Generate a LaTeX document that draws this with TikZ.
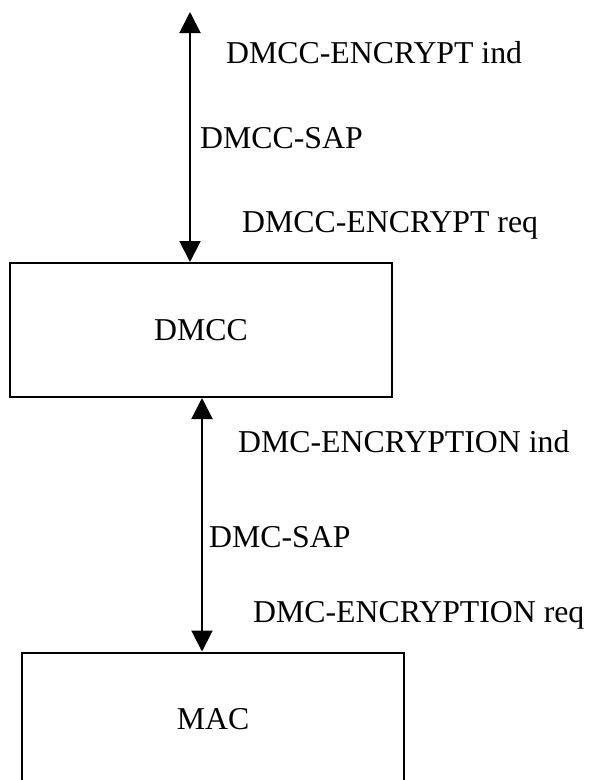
\documentclass[tikz,border=0pt]{standalone}
\usepackage{fontspec}
\setmainfont{Liberation Serif}
\usetikzlibrary{arrows.meta}
\begin{document}
\begin{tikzpicture}[x=1pt,y=-1pt,
  every node/.style={font=\fontsize{31.8}{38}\selectfont},
  blockbox/.style={draw,line width=2pt,minimum width=382pt,minimum height=134pt,inner sep=0pt},
  lbl/.style={anchor=base west,inner sep=0pt},
  conn/.style={line width=2pt,{Triangle[length=21pt,width=21pt]}-{Triangle[length=21pt,width=21pt]}}]
\useasboundingbox (0,0) rectangle (589,780);
\clip (0,0) rectangle (589,780);
\node[blockbox] (dmcc) at (201,330) {DMCC};
\node[blockbox] (mac) at (213,719.5) {MAC};
\coordinate (top) at (190,12);
\coordinate (low) at (202,0);
\draw[conn] (top) -- (dmcc.north -| top);
\draw[conn] (dmcc.south -| low) -- (mac.north -| low);
\node[lbl] (l1) at (226,63) {DMCC-ENCRYPT ind};
\node[lbl] (l2) at (200,148) {DMCC-SAP};
\node[lbl] (l3) at (242,232) {DMCC-ENCRYPT req};
\node[lbl] (l4) at (238,452) {DMC-ENCRYPTION ind};
\node[lbl] (l5) at (209,547) {DMC-SAP};
\node[lbl] (l6) at (253,622) {DMC-ENCRYPTION req};
\end{tikzpicture}
\end{document}
